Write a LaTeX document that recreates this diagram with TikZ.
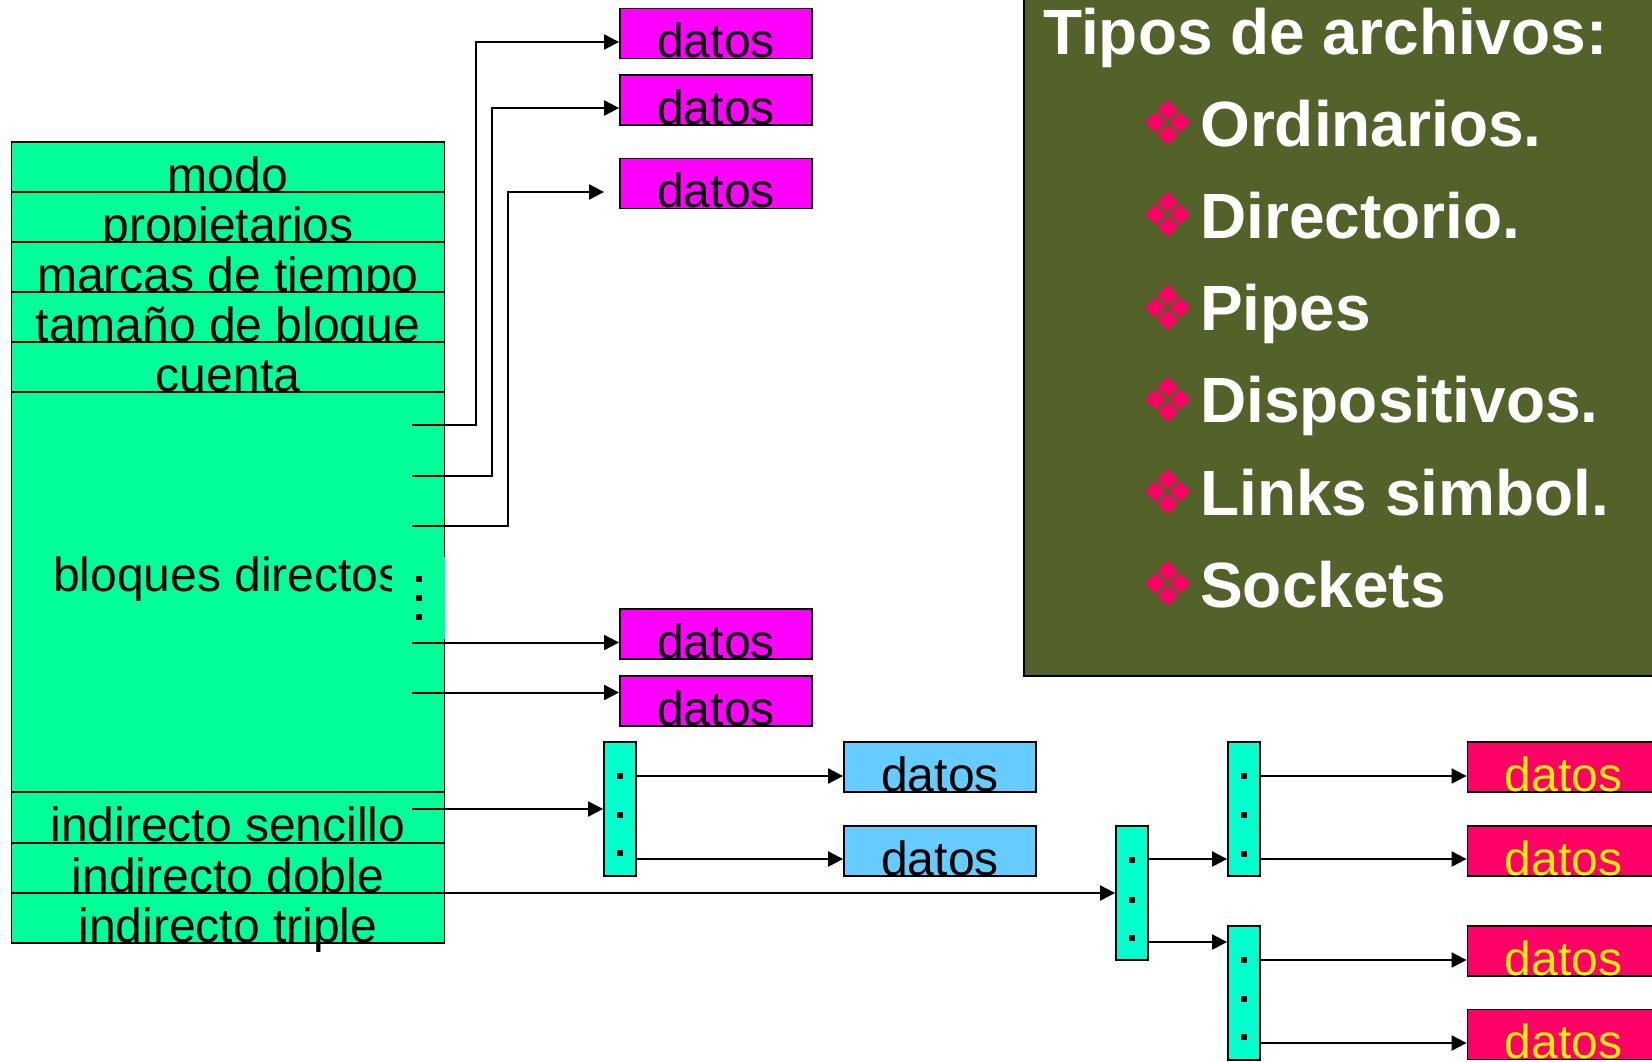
\documentclass[tikz,border=0pt]{standalone}
\usepackage{fontspec}
\setmainfont{Liberation Sans}
\newfontfamily\simbolos{DejaVu Sans}
\usetikzlibrary{arrows.meta}
\definecolor{verde}{HTML}{00FF99}
\definecolor{turquesa}{HTML}{00FFCC}
\definecolor{rosa}{HTML}{FF00FF}
\definecolor{celeste}{HTML}{66CCFF}
\definecolor{rojo}{HTML}{FF0066}
\definecolor{oliva}{HTML}{526229}
\tikzset{
  caja/.style={draw=black,line width=1.8pt,inner sep=0pt,text height=49pt,text depth=1pt,font=\fontsize{48}{50}\selectfont},
  fila/.style={caja,fill=verde,minimum width=433pt},
  datos/.style={caja,minimum width=192pt},
  puntero/.style={draw=black,line width=1.8pt,fill=turquesa,inner sep=0pt,minimum width=32pt,minimum height=134pt},
  flecha/.style={line width=2pt,-{Triangle[length=15pt,width=15pt]}},
  titulo/.style={anchor=base west,inner sep=0pt,text=white,font=\fontsize{64}{66}\selectfont\bfseries},
  vineta/.style={inner sep=0pt,text=rojo,font=\fontsize{62}{64}\simbolos},
}
\begin{document}
\begin{tikzpicture}[x=1pt,y=-1pt]
\useasboundingbox (0,0) rectangle (1652,1061) ;
\node [fila] (modo) at (228,167) {modo} ;
\node [fila] (propietarios) at (228,217) {propietarios} ;
\node [fila] (marcas) at (228,267) {marcas de tiempo} ;
\node [fila] (tamano) at (228,317) {tamaño de bloque} ;
\node [fila] (cuenta) at (228,367) {cuenta} ;
\node [fila,text height=0pt,text depth=0pt,minimum height=400pt] (bloques) at (228,592) {} ;
\node [anchor=base west,inner sep=0pt,font=\fontsize{48}{50}\selectfont] (directos) at (53,591) {bloques directos} ;
\fill [verde] (392,557) rectangle (445,639) ;
\node [fila] (sencillo) at (228,817.5) {indirecto sencillo} ;
\node [fila] (doble) at (228,868) {indirecto doble} ;
\node [fila] (triple) at (228,918) {indirecto triple} ;
\foreach \y in {579,598,617} \fill (416,\y-3) rectangle (422,\y+3) ;
\node [datos,fill=rosa] (d1) at (716,33.5) {datos} ;
\node [datos,fill=rosa] (d2) at (716,100) {datos} ;
\node [datos,fill=rosa] (d3) at (716,183.5) {datos} ;
\node [datos,fill=rosa] (d4) at (716,634) {datos} ;
\node [datos,fill=rosa] (d5) at (716,701) {datos} ;
\node [datos,fill=celeste] (c1) at (940,767) {datos} ;
\node [datos,fill=celeste] (c2) at (940,851) {datos} ;
\node [datos,fill=rojo,text=yellow] (r1) at (1563.5,767) {datos} ;
\node [datos,fill=rojo,text=yellow] (r2) at (1563.5,851) {datos} ;
\node [datos,fill=rojo,text=yellow] (r3) at (1563.5,951) {datos} ;
\node [datos,fill=rojo,text=yellow] (r4) at (1563.5,1034.5) {datos} ;
\node [puntero] (p1) at (620,809) {} ;
\node [puntero] (p2) at (1132,893) {} ;
\node [puntero] (p3) at (1244,809) {} ;
\node [puntero] (p4) at (1244,993) {} ;
\foreach \y in {776,815,853} \fill (616.5,\y-3) rectangle (622.5,\y+3) ;
\foreach \y in {860,899.5,937.5} \fill (1128.5,\y-3) rectangle (1134.5,\y+3) ;
\foreach \y in {776,815,853.5,960,998.5,1037} \fill (1241,\y-3) rectangle (1247,\y+3) ;
\coordinate (s1) at (412,425) ;
\coordinate (s2) at (412,476) ;
\coordinate (s3) at (412,525.5) ;
\coordinate (s4) at (412,642.5) ;
\coordinate (s5) at (412,692.5) ;
\coordinate (s6) at (412,809) ;
\coordinate (s7) at (429,893) ;
\draw [flecha] (s1) -- (476,425) |- ([yshift=-8.5pt]d1.west) ;
\draw [flecha] (s2) -- (492,476) |- ([yshift=-8pt]d2.west) ;
\draw [flecha] (s3) -- (508,525.5) |- ([xshift=-15pt,yshift=-8.5pt]d3.west) ;
\draw [flecha] (s4) -- ([yshift=-8.5pt]d4.west) ;
\draw [flecha] (s5) -- ([yshift=8.5pt]d5.west) ;
\draw [flecha] (s6) -- (p1.west) ;
\draw [flecha] (s7) -- (p2.west) ;
\draw [flecha] ([yshift=33pt]p1.east) -- ([yshift=-9pt]c1.west) ;
\draw [flecha] ([yshift=-50pt]p1.east) -- ([yshift=-8pt]c2.west) ;
\draw [flecha] ([yshift=34pt]p2.east) -- ([yshift=-50pt]p3.west) ;
\draw [flecha] ([yshift=-49pt]p2.east) -- ([yshift=51pt]p4.west) ;
\draw [flecha] ([yshift=33pt]p3.east) -- ([yshift=-9pt]r1.west) ;
\draw [flecha] ([yshift=-50pt]p3.east) -- ([yshift=-8pt]r2.west) ;
\draw [flecha] ([yshift=33pt]p4.east) -- ([yshift=-9pt]r3.west) ;
\draw [flecha] ([yshift=-50pt]p4.east) -- ([yshift=-8.5pt]r4.west) ;
\draw [line width=1.8pt,fill=oliva] (1024,-5) rectangle (1660,676) ;
\node [titulo] (tipos) at (1043,54) {Tipos de archivos:} ;
\foreach \n/\t/\y in {1/Ordinarios./146,2/Directorio./238.5,3/Pipes/330.5,4/Dispositivos./422.5,5/Links simbol./515,6/Sockets/607} {
  \node [titulo] (t\n) at (1200,\y) {\t} ;
  \node [vineta] (v\n) at (1168,\y-23) {❖} ;
}
\end{tikzpicture}
\end{document}
